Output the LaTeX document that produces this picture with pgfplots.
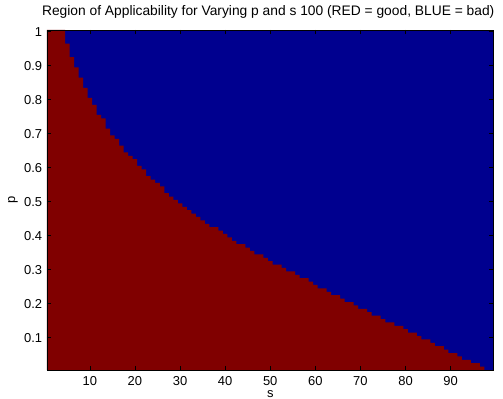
\documentclass[border=0pt]{standalone}
\usepackage{fontspec}
\setmainfont{Liberation Sans}
\usepackage{pgfplots}
\usepackage{pgfplotstable}
\pgfplotsset{compat=1.18}
\definecolor{mred}{RGB}{128,0,0}
\definecolor{mblue}{RGB}{0,0,143}
\pgfplotstableread{
s p
1 1.00
2 1.00
3 1.00
4 1.00
5 0.96
6 0.92
7 0.89
8 0.86
9 0.83
10 0.80
11 0.78
12 0.75
13 0.74
14 0.71
15 0.69
16 0.68
17 0.66
18 0.64
19 0.63
20 0.62
21 0.60
22 0.59
23 0.57
24 0.56
25 0.55
26 0.54
27 0.52
28 0.51
29 0.50
30 0.49
31 0.48
32 0.47
33 0.46
34 0.45
35 0.44
36 0.43
37 0.42
38 0.42
39 0.41
40 0.40
41 0.39
42 0.38
43 0.37
44 0.37
45 0.36
46 0.35
47 0.34
48 0.34
49 0.33
50 0.32
51 0.31
52 0.31
53 0.30
54 0.29
55 0.29
56 0.28
57 0.27
58 0.27
59 0.26
60 0.25
61 0.24
62 0.24
63 0.23
64 0.22
65 0.22
66 0.21
67 0.20
68 0.20
69 0.19
70 0.18
71 0.18
72 0.17
73 0.16
74 0.16
75 0.15
76 0.14
77 0.14
78 0.13
79 0.13
80 0.12
81 0.11
82 0.11
83 0.10
84 0.09
85 0.09
86 0.08
87 0.07
88 0.07
89 0.06
90 0.05
91 0.05
92 0.04
93 0.03
94 0.03
95 0.02
96 0.02
97 0.01
98 0.00
99 0.00
100 0.00
}\boundary
\begin{document}
\begin{tikzpicture}
\begin{axis}[
  scale only axis,
  width=446.5bp, height=340bp,
  xmin=0.5, xmax=99.5, ymin=0.005, ymax=1.005,
  xtick={10,20,30,40,50,60,70,80,90},
  ytick={0.1,0.2,0.3,0.4,0.5,0.6,0.7,0.8,0.9,1},
  yticklabels={0.1,0.2,0.3,0.4,0.5,0.6,0.7,0.8,0.9,1},
  tick align=inside,
  major tick length=4.5bp,
  axis on top,
  axis line style={line width=0.8bp, black},
  every tick/.style={black, line width=0.6bp},
  axis background/.style={fill=mblue},
  /pgf/number format/assume math mode=true,
  tick label style={font=\fontsize{13}{15}\selectfont, inner sep=0pt},
  xticklabel style={anchor=base, yshift=-15.5bp},
  yticklabel style={anchor=east, xshift=-4.7bp},
  title={Region of Applicability for Varying p and s 100 (RED = good, BLUE = bad)},
  title style={font=\fontsize{13.85}{16}\selectfont, at={(axis description cs:0.5,1)}, anchor=base, yshift=9bp, xshift=-2bp, inner sep=0pt},
  xlabel={s},
  xlabel style={font=\fontsize{13}{15}\selectfont, at={(axis description cs:0.5,0)}, anchor=base, yshift=-27bp, inner sep=0pt},
  ylabel={p},
  ylabel style={font=\fontsize{13}{15}\selectfont, at={(axis description cs:-0.0762,0.5)}, anchor=center, inner sep=0pt},
]
\addplot[draw=none, fill=mred, const plot mark left]
  table[x expr=\thisrow{s}-0.5, y expr=\thisrow{p}+0.005] {\boundary} \closedcycle;
\end{axis}
\pgfresetboundingbox
\path (current axis.south west) ++(-47bp,-29bp) coordinate (bbA);
\path (current axis.north east) ++(9.5bp,30bp) coordinate (bbB);
\path[use as bounding box] (bbA) rectangle (bbB);
\end{tikzpicture}
\end{document}
